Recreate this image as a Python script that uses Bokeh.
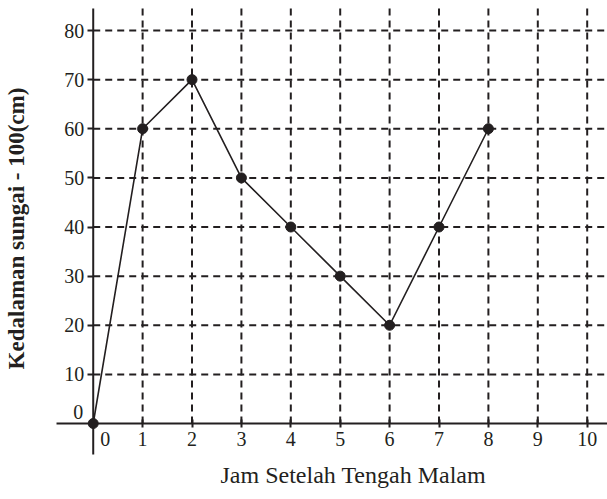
import math
from bokeh.plotting import figure
from bokeh.models import LinearAxis, FixedTicker, Range1d, ColumnDataSource
from bokeh.core.properties import value
from bokeh.embed import file_html
from bokeh.resources import INLINE

# ---- data ----
hours = [0, 1, 2, 3, 4, 5, 6, 7, 8]
depth = [0, 60, 70, 50, 40, 30, 20, 40, 60]
x_ticks = [1, 2, 3, 4, 5, 6, 7, 8, 9, 10]
y_ticks = [10, 20, 30, 40, 50, 60, 70, 80]
x_label = "Jam Setelah Tengah Malam"
y_label = "Kedalaman sungai - 100(cm)"

INK = "#231f20"
FONT = "Liberation Serif"
TICK_SIZE = "20px"

# visible extent of the drawn axes (data units)
AX_X0, AX_X1 = -0.743, 10.41
AX_Y0, AX_Y1 = -6.31, 84.48

p = figure(width=607, height=499, output_backend="svg", toolbar_location=None,
           x_range=Range1d(-1.877, 10.411), y_range=Range1d(-15.47, 86.11),
           x_axis_location=None, y_axis_location=None,
           min_border_left=0, min_border_right=0, min_border_top=0, min_border_bottom=0)
p.outline_line_color = None
p.xgrid.visible = False
p.ygrid.visible = False

# dashed grid, drawn only in the first quadrant
p.segment(x0=x_ticks, y0=[0] * len(x_ticks), x1=x_ticks, y1=[AX_Y1] * len(x_ticks),
          line_color=INK, line_width=2, line_dash="7 5")
p.segment(x0=[0] * len(y_ticks), y0=y_ticks, x1=[AX_X1] * len(y_ticks), y1=y_ticks,
          line_color=INK, line_width=2, line_dash="7 5")

# axis lines crossing at the origin
p.segment(x0=[AX_X0, 0], y0=[0, AX_Y0], x1=[AX_X1, 0], y1=[0, AX_Y1],
          line_color=INK, line_width=2)

# ticks and tick labels
yaxis = LinearAxis(fixed_location=0, ticker=FixedTicker(ticks=y_ticks),
                   axis_line_color=None,
                   major_tick_out=6, major_tick_in=0, major_tick_line_width=2,
                   major_tick_line_color=INK, minor_tick_out=0, minor_tick_in=0,
                   major_label_standoff=3, major_label_text_font=FONT,
                   major_label_text_font_size=TICK_SIZE, major_label_text_color=INK)
xaxis = LinearAxis(fixed_location=0, ticker=FixedTicker(ticks=x_ticks),
                   axis_line_color=None,
                   major_tick_out=4, major_tick_in=4, major_tick_line_width=2,
                   major_tick_line_color=INK, minor_tick_out=0, minor_tick_in=0,
                   major_label_standoff=4, major_label_text_font=FONT,
                   major_label_text_font_size=TICK_SIZE, major_label_text_color=INK)
p.add_layout(yaxis, "left")
p.add_layout(xaxis, "below")

# zero labels next to the origin
p.text(x=[0], y=[0], text=["0"], x_offset=-10, y_offset=-12, text_align="right",
       text_baseline="middle", text_font=value(FONT), text_font_size=TICK_SIZE, text_color=INK)
p.text(x=[0], y=[0], text=["0"], x_offset=12, y_offset=8, text_align="center",
       text_baseline="top", text_font=value(FONT), text_font_size=TICK_SIZE, text_color=INK)

# data
src = ColumnDataSource(dict(x=hours, y=depth))
p.line("x", "y", source=src, line_color=INK, line_width=1.6)
p.scatter("x", "y", source=src, size=10, fill_color=INK, line_color=INK)

# axis titles
p.text(x=[AX_X0], y=[(AX_Y0 + AX_Y1) / 2], text=[y_label], x_offset=-40.5, y_offset=-3,
       angle=math.pi / 2, text_align="center", text_baseline="alphabetic",
       text_font=value(FONT), text_font_style="bold", text_font_size="23px", text_color=INK)
p.text(x=[AX_X0], y=[AX_Y0], text=[x_label], x_offset=164, y_offset=20,
       text_align="left", text_baseline="alphabetic",
       text_font=value(FONT), text_font_size="24px", text_color=INK)

open("out.html", "w").write(file_html(p, INLINE))
